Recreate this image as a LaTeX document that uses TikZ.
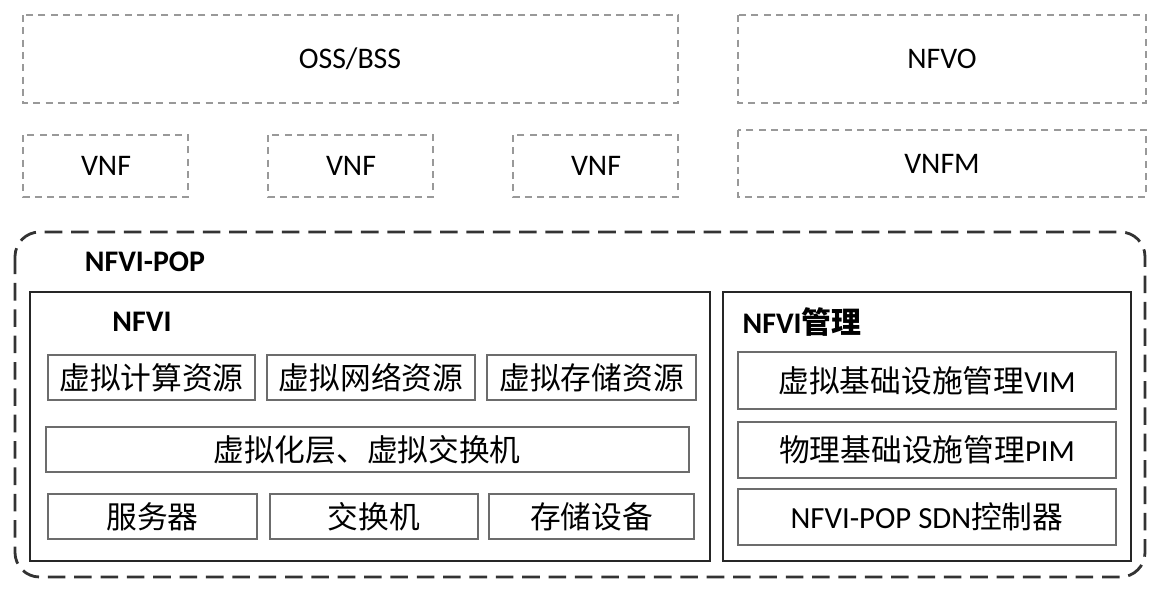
\documentclass[tikz,border=0pt]{standalone}
\usepackage{fontspec}
\setmainfont{Carlito}
\newfontfamily\cjk{Noto Sans CJK SC}
\begin{document}
\begin{tikzpicture}[x=0.02cm,y=-0.02cm,
  dbox/.style={draw=gray!80,dashed,line width=0.8pt,dash pattern=on 4pt off 3pt},
  sbox/.style={draw=gray!85!black,line width=0.7pt},
  big/.style={draw=black!85,line width=1.6pt},
  lat/.style={font=\fontsize{17}{20}\selectfont},
  chn/.style={font=\fontsize{17.5}{20}\selectfont}]
\useasboundingbox (0,0) rectangle (1168,600);
\draw[dbox] (23,15) rectangle (678,103); \node[lat] (oss) at (350,59) {OSS/BSS};
\draw[dbox] (738,15) rectangle (1146,103); \node[lat] (nfvo) at (942,59) {NFVO};
\foreach \a/\n in {23/v1,268/v2,513/v3}{
  \draw[dbox] (\a,135) rectangle (\a+165,197); \node[lat] (\n) at (\a+83,166) {VNF};}
\draw[dbox] (738,130) rectangle (1146,197); \node[lat] (vnfm) at (942,164) {VNFM};
\draw[draw=black!80,line width=1.6pt,dash pattern=on 10pt off 5pt,rounded corners=14pt] (15,232) rectangle (1145,577);
\node[font=\bfseries\fontsize{17}{20}\selectfont] (pop) at (145,262) {NFVI-POP};
\draw[big] (30,292) rectangle (710,561);
\node[font=\bfseries\fontsize{17}{20}\selectfont] (nfvi) at (142,322) {NFVI};
\foreach \a/\b/\t/\n in {48/255/虚拟计算资源/r1,267/475/虚拟网络资源/r2,487/696/虚拟存储资源/r3}{
  \draw[sbox] (\a,355) rectangle (\b,400); \node[chn] (\n) at ({(\a+\b)/2},378) {\cjk \t};}
\draw[sbox] (46,427) rectangle (689,472); \node[chn] (vl) at (367,450) {\cjk 虚拟化层、虚拟交换机};
\foreach \a/\b/\t/\n in {48/257/服务器/h1,270/478/交换机/h2,489/694/存储设备/h3}{
  \draw[sbox] (\a,494) rectangle (\b,539); \node[chn] (\n) at ({(\a+\b)/2},517) {\cjk \t};}
\draw[big] (723,292) rectangle (1131,561);
\node[font=\bfseries\fontsize{17}{20}\selectfont] (mg) at (802,322) {NFVI{\cjk 管理}};
\draw[sbox] (738,352) rectangle (1116,409); \node[chn] (m1) at (927,381) {{\cjk 虚拟基础设施管理}VIM};
\draw[sbox] (738,422) rectangle (1116,478); \node[chn] (m2) at (927,450) {{\cjk 物理基础设施管理}PIM};
\draw[sbox] (738,489) rectangle (1116,545); \node[chn] (m3) at (927,517) {NFVI-POP SDN{\cjk 控制器}};
\end{tikzpicture}
\end{document}
